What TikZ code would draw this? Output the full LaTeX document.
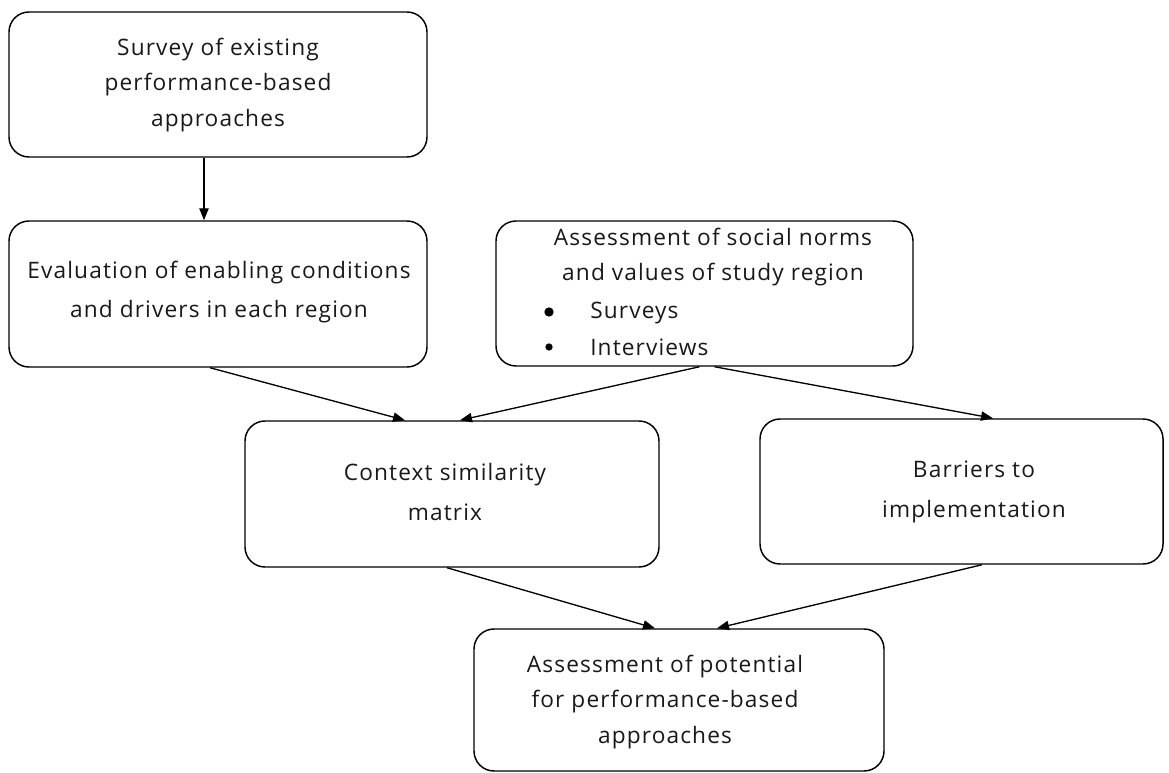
\documentclass[tikz,border=0pt]{standalone}
\usepackage{fontspec}
\setmainfont{Open Sans}[LetterSpace=5]
\usetikzlibrary{arrows.meta,calc}
\begin{document}
\begin{tikzpicture}[x=0.75pt,y=-0.75pt,
  box/.style={draw=black, line width=1.1pt, rounded corners=15pt, fill=white, inner sep=0pt},
  txt/.style={align=center, font=\fontsize{17pt}{26.5pt}\selectfont, inner sep=0pt, text=black!90},
  wtxt/.style={align=center, font=\fontsize{17pt}{29.5pt}\selectfont, inner sep=0pt, text=black!90},
  ltxt/.style={anchor=west, font=\fontsize{17pt}{26pt}\selectfont, inner sep=0pt, text=black!90},
  dot/.style={circle, fill=black, inner sep=0pt},
  arr/.style={line width=1pt, -{Triangle[length=9pt,width=7pt]}}]
\useasboundingbox (0,0) rectangle (1169,773);
% boxes
\node[box, minimum width=313.5pt, minimum height=108.75pt] (b1) at (218,84.5) {};
\node[box, minimum width=313.5pt, minimum height=109.5pt] (b2) at (218,294) {};
\node[box, minimum width=312.75pt, minimum height=108.75pt] (b3) at (704.5,293.5) {};
\node[box, minimum width=310.5pt, minimum height=109.5pt] (b4) at (452,494) {};
\node[box, minimum width=302.25pt, minimum height=108.75pt] (b5) at (961.5,491.5) {};
\node[box, minimum width=307.5pt, minimum height=106.5pt] (b6) at (679,700) {};
% texts
\node[txt] (t1) at (218,85) {Survey of existing\\performance-based\\approaches};
\node[wtxt] (t2) at (219,292) {Evaluation of enabling conditions\\and drivers in each region};
\node[txt] (t3) at (713,257) {Assessment of social norms\\and values of study region};
\node[ltxt] (s1) at (590,313) {Surveys};
\node[ltxt] (s2) at (590,347) {Interviews};
\node[dot, minimum size=7pt] (d1) at (549,312) {};
\node[dot, minimum size=5.5pt] (d2) at (549,347) {};
\node[wtxt] (t4) at (445,492) {Context similarity\\matrix};
\node[wtxt] (t5) at (974,492) {Barriers to\\implementation};
\node[txt] (t6) at (665,702) {Assessment of potential\\for performance-based\\approaches};
% arrows
\draw[arr] ($(b1.south)+(-14,0)$) -- ($(b2.north)+(-14,0)$);
\draw[arr] ($(b2.south)+(-8,0)$) -- ($(b4.north)+(-47,0)$);
\draw[arr] ($(b3.south)+(-5,0)$) -- ($(b4.north)+(8,0)$);
\draw[arr] ($(b3.south)+(10,0)$) -- ($(b5.north)+(31.5,0)$);
\draw[arr] ($(b4.south)+(-5,0)$) -- ($(b6.north)+(-24,0)$);
\draw[arr] ($(b5.south)+(20.5,0)$) -- ($(b6.north)+(38,0)$);
\end{tikzpicture}
\end{document}
